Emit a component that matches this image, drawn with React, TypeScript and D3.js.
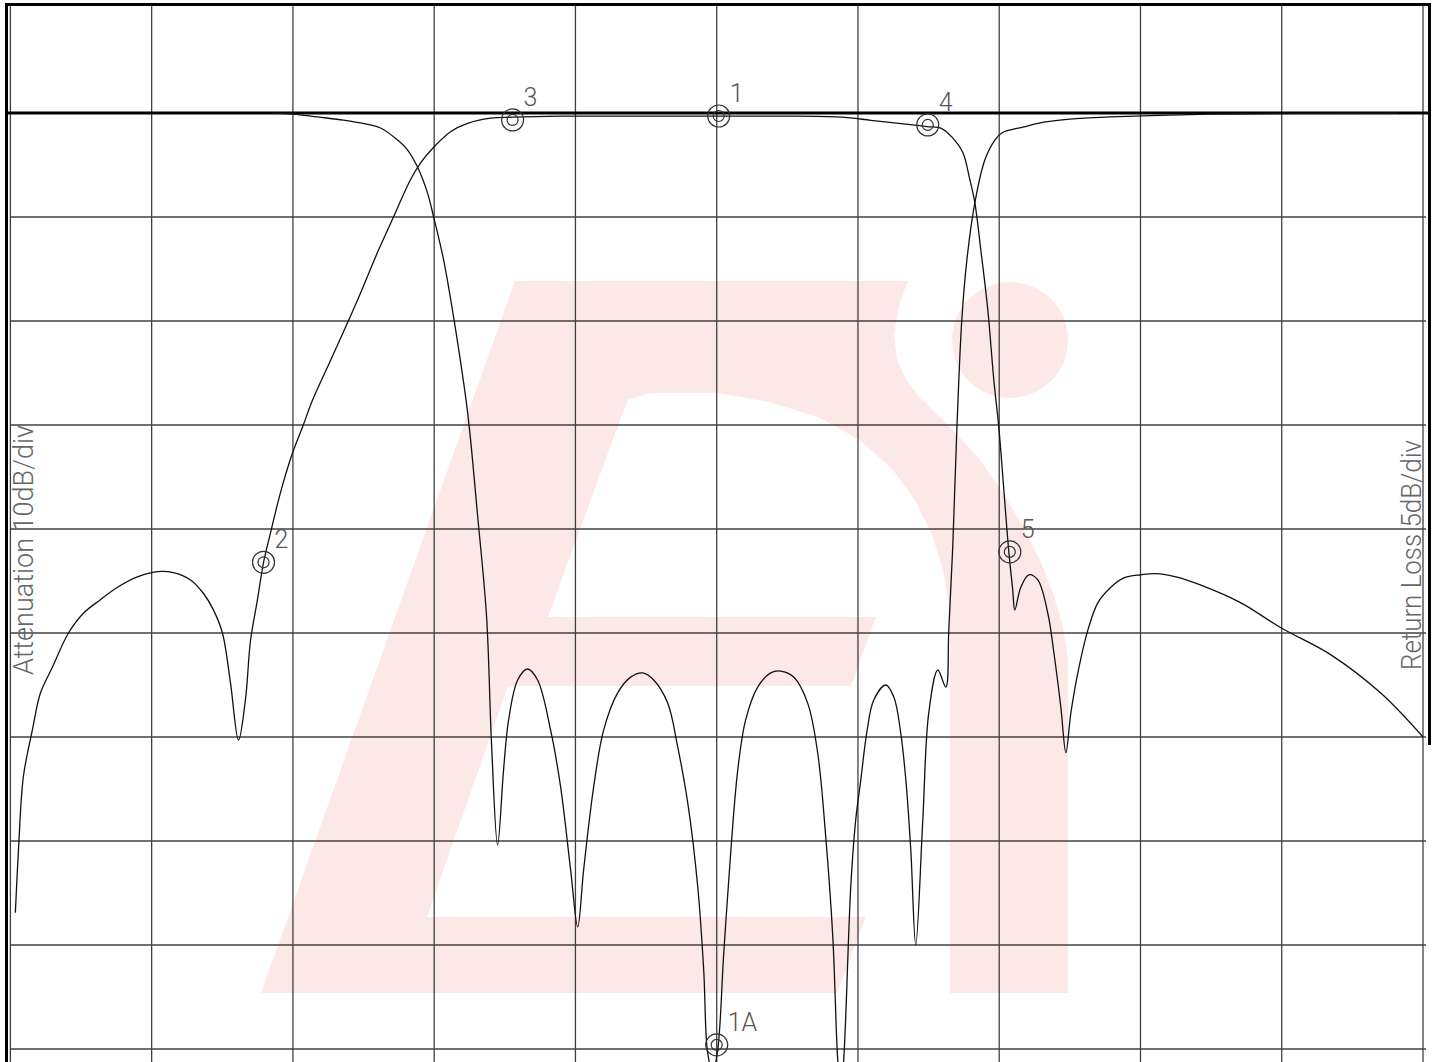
import React, { useEffect, useRef } from "react";
import * as d3 from "d3";

const W = 1434;
const H = 1062;

// frequency in grid divisions (0..10 across the screen)
// S21 attenuation, 10 dB/div, 0 dB on the reference line
const s21Freq = [
  0.035, 0.057, 0.092, 0.156, 0.212, 0.297, 0.411, 0.517, 0.637, 0.758, 0.899, 1.041, 1.154, 1.275, 1.367,
  1.438, 1.501, 1.558, 1.615, 1.664, 1.7, 1.749, 1.792, 1.841, 1.912, 1.997, 2.068, 2.139, 2.266, 2.457,
  2.599, 2.712, 2.833, 2.904, 2.996, 3.116, 3.236, 3.399, 3.555, 3.895, 4.32, 4.745, 5.0, 5.453, 5.878,
  6.091, 6.289, 6.487, 6.593, 6.664, 6.742, 6.792, 6.827, 6.87, 6.919, 6.962, 6.997, 7.033, 7.068, 7.096,
  7.11, 7.153, 7.21, 7.273, 7.344, 7.387, 7.436, 7.472, 7.507, 7.557, 7.628, 7.698, 7.79, 7.882, 8.003,
  8.109, 8.251, 8.428, 8.711, 8.994, 9.348, 9.703, 10.0,
];
const s21Db = [
  -76.9, -70.9, -63.8, -59.3, -55.8, -53.3, -50.0, -48.1, -46.8, -45.6, -44.6, -44.1, -44.2, -44.9, -46.2,
  -47.8, -50.0, -54.8, -60.3, -56.4, -50.7, -46.8, -43.2, -40.4, -36.5, -32.7, -30.2, -27.6, -23.8, -18.0,
  -13.4, -10.0, -6.4, -4.8, -3.3, -1.8, -1.0, -0.5, -0.4, -0.3, -0.3, -0.3, -0.3, -0.3, -0.4,
  -0.7, -1.0, -1.3, -1.5, -2.3, -3.8, -6.4, -8.6, -13.2, -18.9, -25.7, -30.2, -36.3, -42.2, -45.9,
  -47.8, -45.6, -44.4, -44.9, -48.1, -51.9, -57.1, -61.5, -57.7, -53.8, -49.7, -47.1, -45.6, -44.7, -44.4,
  -44.3, -44.6, -45.4, -47.1, -49.5, -52.1, -55.8, -60.0,
];

// S11 return loss, 5 dB/div
const s11Freq = [
  1.856, 2.004, 2.174, 2.358, 2.479, 2.62, 2.741, 2.812, 2.882, 2.953, 2.996, 3.067, 3.152, 3.237, 3.307,
  3.371, 3.406, 3.449, 3.491, 3.527, 3.591, 3.661, 3.732, 3.824, 3.895, 3.966, 4.016, 4.058, 4.129, 4.2,
  4.299, 4.391, 4.476, 4.554, 4.653, 4.724, 4.795, 4.866, 4.908, 4.936, 4.972, 5.007, 5.05, 5.099, 5.149,
  5.205, 5.29, 5.382, 5.453, 5.545, 5.644, 5.715, 5.772, 5.822, 5.857, 5.878, 5.899, 5.949, 5.984, 6.02,
  6.062, 6.112, 6.197, 6.254, 6.303, 6.339, 6.374, 6.409, 6.459, 6.501, 6.565, 6.622, 6.643, 6.671, 6.7,
  6.735, 6.771, 6.827, 6.898, 6.969, 7.018, 7.174, 7.323, 7.5, 7.783, 8.491, 9.136, 9.83,
];
const s11Db = [
  0.0, -0.05, -0.19, -0.34, -0.48, -0.72, -1.3, -1.78, -2.6, -3.85, -5.0, -7.07, -10.43, -14.42, -19.33,
  -24.23, -30.34, -35.19, -31.59, -29.18, -27.26, -26.73, -27.26, -29.66, -32.4, -36.39, -39.13, -36.39, -32.4, -29.66,
  -27.88, -27.12, -26.92, -27.26, -28.37, -30.48, -33.17, -37.21, -41.2, -45.19, -46.11, -45.05, -40.38, -35.58, -31.59,
  -29.18, -27.6, -26.92, -26.83, -27.12, -28.37, -30.77, -34.81, -39.62, -45.53, -46.97, -45.53, -37.21, -33.99, -32.07,
  -29.81, -28.22, -27.5, -28.08, -29.81, -32.07, -35.43, -40.0, -33.99, -28.85, -26.78, -27.6, -24.86, -20.87, -15.24,
  -9.95, -7.07, -4.33, -2.26, -1.3, -0.96, -0.67, -0.43, -0.29, -0.19, -0.05, -0.02, 0.0,
];

const markerLabels = ["1", "2", "3", "4", "5", "1A"];
const markerTrace = ["s21", "s21", "s21", "s21", "s21", "s11"];
const markerFreq = [5.014, 1.792, 3.555, 6.494, 7.075, 5.0];
const markerDb = [-0.29, -43.2, -0.67, -1.15, -42.2, -44.8];

const divisions = d3.range(0, 11);
const attenTicks = d3.range(0, -100, -10);

// watermark logo outline (screen pixels, decoration only)
const logoOuter = [
  [261, 993], [515, 281], [908, 281], [899, 305], [894, 335], [897, 360], [906, 380], [920, 398],
  [950, 427], [980, 460], [1003, 493], [1023, 527], [1040, 560], [1053, 593], [1063, 627], [1068, 660],
  [1068, 993],
];
const logoInner = [
  [650, 393], [716, 393], [770, 402], [820, 418], [860, 440], [893, 470], [915, 500], [932, 535],
  [943, 570], [949, 605], [950, 640], [950, 993], [837, 993], [866, 917], [427, 917], [508, 686],
  [851, 686], [876, 617], [548, 617], [620, 420], [628, 400],
];

const App = () => {
  const svgRef = useRef(null);

  useEffect(() => {
    const svg = d3.select(svgRef.current);
    svg.selectAll("*").remove();

    const x = d3.scaleLinear().domain([0, 10]).range([10.4, 1423]);
    const yAtt = d3.scaleLinear().domain([10, -90]).range([9, 1049]);
    const yRl = d3.scaleLinear().domain([5, -45]).range([9, 1049]);

    svg.append("rect").attr("width", W).attr("height", H).attr("fill", "#fff");

    // watermark
    const pink = "#fde8e8";
    const logo = svg.append("g");
    logo.append("path").attr("d", d3.line()(logoOuter) + "Z").attr("fill", pink);
    logo.append("circle").attr("cx", 1010).attr("cy", 340).attr("r", 58).attr("fill", pink);
    logo.append("path").attr("d", d3.line()(logoInner) + "Z").attr("fill", "#fff");

    // grid
    const grid = svg.append("g").attr("stroke", "#404040").attr("stroke-width", 1.3);
    grid
      .selectAll("line.v")
      .data(divisions)
      .join("line")
      .attr("class", "v")
      .attr("x1", (d) => x(d))
      .attr("x2", (d) => x(d))
      .attr("y1", 6)
      .attr("y2", H);
    grid
      .selectAll("line.h")
      .data(attenTicks.slice(1))
      .join("line")
      .attr("class", "h")
      .attr("x1", 10)
      .attr("x2", x(10) + 3)
      .attr("y1", (d) => yAtt(d))
      .attr("y2", (d) => yAtt(d));

    // frame + reference line
    const frame = svg.append("g").attr("stroke", "#000");
    frame.append("line").attr("x1", 5).attr("x2", 1431).attr("y1", 4.5).attr("y2", 4.5).attr("stroke-width", 3);
    frame.append("line").attr("x1", 6.5).attr("x2", 6.5).attr("y1", 3).attr("y2", H).attr("stroke-width", 3);
    frame.append("line").attr("x1", 1429.5).attr("x2", 1429.5).attr("y1", 3).attr("y2", 745).attr("stroke-width", 3);
    frame
      .append("line")
      .attr("x1", 7)
      .attr("x2", 1431)
      .attr("y1", yAtt(0))
      .attr("y2", yAtt(0))
      .attr("stroke-width", 3);

    // traces
    const s21 = s21Freq.map((f, i) => [f, s21Db[i]]);
    const s11 = s11Freq.map((f, i) => [f, s11Db[i]]);
    const lineAtt = d3
      .line()
      .x((d) => x(d[0]))
      .y((d) => yAtt(d[1]))
      .curve(d3.curveCatmullRom.alpha(0.5));
    const lineRl = d3
      .line()
      .x((d) => x(d[0]))
      .y((d) => yRl(d[1]))
      .curve(d3.curveCatmullRom.alpha(0.5));

    svg.append("path").attr("d", lineAtt(s21)).attr("fill", "none").attr("stroke", "#111").attr("stroke-width", 1.3);
    svg.append("path").attr("d", lineRl(s11)).attr("fill", "none").attr("stroke", "#111").attr("stroke-width", 1.3);

    // markers
    const mk = svg
      .append("g")
      .selectAll("g")
      .data(markerLabels.map((label, i) => ({
        label,
        cx: x(markerFreq[i]),
        cy: markerTrace[i] === "s21" ? yAtt(markerDb[i]) : yRl(markerDb[i]),
      })))
      .join("g")
      .attr("transform", (d) => `translate(${d.cx},${d.cy})`);
    mk.append("circle").attr("r", 11).attr("fill", "none").attr("stroke", "#333").attr("stroke-width", 1.2);
    mk.append("circle").attr("r", 5.5).attr("fill", "none").attr("stroke", "#333").attr("stroke-width", 1.2);
    mk.append("text")
      .attr("x", 11)
      .attr("y", -14)
      .attr("font-family", "Roboto, 'DejaVu Sans', sans-serif")
      .attr("font-weight", 300)
      .attr("font-size", 25)
      .attr("fill", "#555")
      .text((d) => d.label);

    // axis captions
    const caption = (text, cx, cy, len) =>
      svg
        .append("text")
        .attr("transform", `translate(${cx},${cy}) rotate(-90)`)
        .attr("text-anchor", "middle")
        .attr("font-family", "Roboto, 'DejaVu Sans', sans-serif")
        .attr("font-weight", 300)
        .attr("font-size", 28)
        .attr("fill", "#666")
        .attr("textLength", len)
        .attr("lengthAdjust", "spacingAndGlyphs")
        .text(text);
    caption("Attenuation 10dB/div", 33, 550, 250);
    caption("Return Loss 5dB/div", 1421, 555, 230);

    return () => {
      svg.selectAll("*").remove();
    };
  }, []);

  return (
    <svg
      ref={svgRef}
      width={W}
      height={H}
      style={{ position: "absolute", left: 0, top: 0, display: "block" }}
    />
  );
};

export default App;
